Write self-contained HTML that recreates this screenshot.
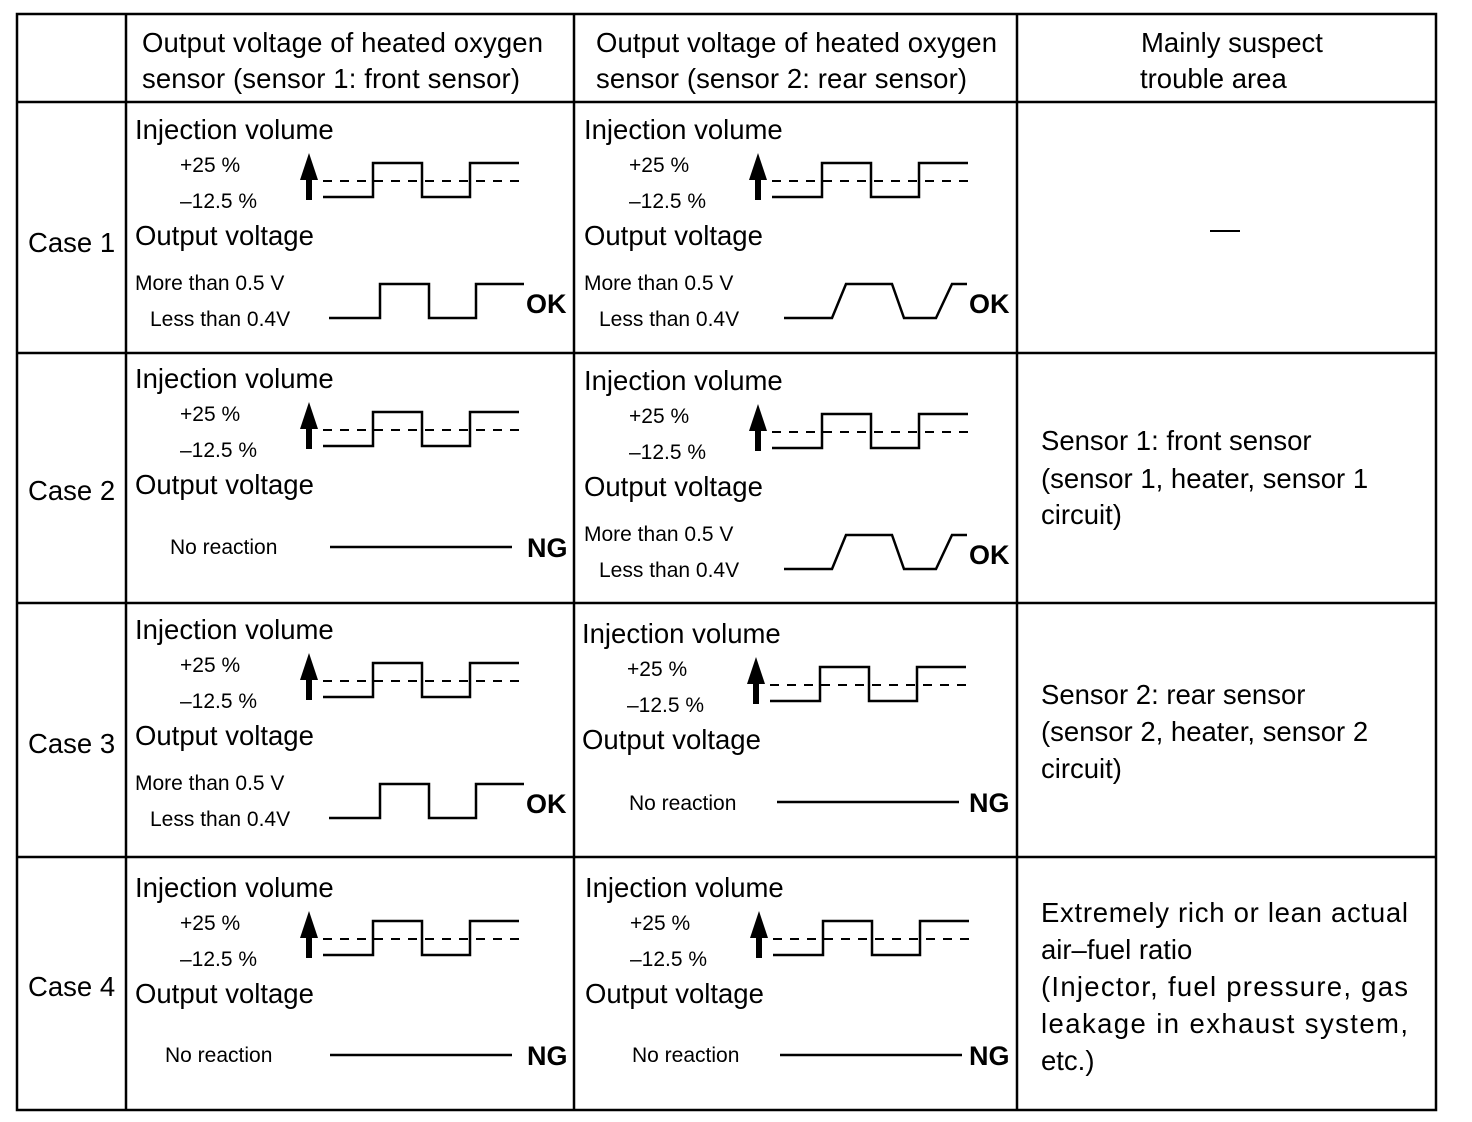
<!DOCTYPE html>
<html><head><meta charset="utf-8"><style>
html,body{margin:0;padding:0;background:#fff;}
svg{display:block;}
text{font-family:"Liberation Sans",Arial,sans-serif;fill:#000;}
.b{font-size:27.5px;}
.s{font-size:21px;}
.k{font-size:27px;font-weight:bold;}
.w{fill:none;stroke:#000;stroke-width:2.5;}
.d{fill:none;stroke:#000;stroke-width:2;stroke-dasharray:9 8;}
</style></head><body>
<svg width="1472" height="1122" viewBox="0 0 1472 1122" xmlns="http://www.w3.org/2000/svg">
<rect x="0" y="0" width="1472" height="1122" fill="#fff"/>
<g stroke="#000" stroke-width="2.5" fill="none">
<rect x="17" y="14" width="1419" height="1096"/>
<line x1="126" y1="14" x2="126" y2="1110"/>
<line x1="574" y1="14" x2="574" y2="1110"/>
<line x1="1017" y1="14" x2="1017" y2="1110"/>
<line x1="17" y1="102" x2="1436" y2="102"/>
<line x1="17" y1="353" x2="1436" y2="353"/>
<line x1="17" y1="603" x2="1436" y2="603"/>
<line x1="17" y1="857" x2="1436" y2="857"/>
</g>
<text class="b" x="142" y="52" textLength="401">Output voltage of heated oxygen</text>
<text class="b" x="142" y="88" textLength="378">sensor (sensor 1: front sensor)</text>
<text class="b" x="596" y="52" textLength="401">Output voltage of heated oxygen</text>
<text class="b" x="596" y="88" textLength="371">sensor (sensor 2: rear sensor)</text>
<text class="b" x="1141" y="52">Mainly suspect</text>
<text class="b" x="1140" y="88">trouble area</text>
<text class="b" x="28" y="252">Case 1</text>
<text class="b" x="28" y="500">Case 2</text>
<text class="b" x="28" y="753">Case 3</text>
<text class="b" x="28" y="996">Case 4</text>

<g transform="translate(0,0)">
<text class="b" x="135" y="139">Injection volume</text><text class="s" x="180" y="172">+25 %</text><text class="s" x="180" y="208">–12.5 %</text><text class="b" x="135" y="245">Output voltage</text>
<polygon points="309,153 300,180 318,180"/><rect x="306" y="178" width="6" height="22"/>
<path class="w" d="M323 197 H373 V163 H422 V197 H470 V163 H519"/><line class="d" x1="323" y1="181" x2="519" y2="181"/>
</g>
<g transform="translate(449,0)">
<text class="b" x="135" y="139">Injection volume</text><text class="s" x="180" y="172">+25 %</text><text class="s" x="180" y="208">–12.5 %</text><text class="b" x="135" y="245">Output voltage</text>
<polygon points="309,153 300,180 318,180"/><rect x="306" y="178" width="6" height="22"/>
<path class="w" d="M323 197 H373 V163 H422 V197 H470 V163 H519"/><line class="d" x1="323" y1="181" x2="519" y2="181"/>
</g>
<g transform="translate(0,249)">
<text class="b" x="135" y="139">Injection volume</text><text class="s" x="180" y="172">+25 %</text><text class="s" x="180" y="208">–12.5 %</text><text class="b" x="135" y="245">Output voltage</text>
<polygon points="309,153 300,180 318,180"/><rect x="306" y="178" width="6" height="22"/>
<path class="w" d="M323 197 H373 V163 H422 V197 H470 V163 H519"/><line class="d" x1="323" y1="181" x2="519" y2="181"/>
</g>
<g transform="translate(449,251)">
<text class="b" x="135" y="139">Injection volume</text><text class="s" x="180" y="172">+25 %</text><text class="s" x="180" y="208">–12.5 %</text><text class="b" x="135" y="245">Output voltage</text>
<polygon points="309,153 300,180 318,180"/><rect x="306" y="178" width="6" height="22"/>
<path class="w" d="M323 197 H373 V163 H422 V197 H470 V163 H519"/><line class="d" x1="323" y1="181" x2="519" y2="181"/>
</g>
<g transform="translate(0,500)">
<text class="b" x="135" y="139">Injection volume</text><text class="s" x="180" y="172">+25 %</text><text class="s" x="180" y="208">–12.5 %</text><text class="b" x="135" y="245">Output voltage</text>
<polygon points="309,153 300,180 318,180"/><rect x="306" y="178" width="6" height="22"/>
<path class="w" d="M323 197 H373 V163 H422 V197 H470 V163 H519"/><line class="d" x1="323" y1="181" x2="519" y2="181"/>
</g>
<g transform="translate(447,504)">
<text class="b" x="135" y="139">Injection volume</text><text class="s" x="180" y="172">+25 %</text><text class="s" x="180" y="208">–12.5 %</text><text class="b" x="135" y="245">Output voltage</text>
<polygon points="309,153 300,180 318,180"/><rect x="306" y="178" width="6" height="22"/>
<path class="w" d="M323 197 H373 V163 H422 V197 H470 V163 H519"/><line class="d" x1="323" y1="181" x2="519" y2="181"/>
</g>
<g transform="translate(0,758)">
<text class="b" x="135" y="139">Injection volume</text><text class="s" x="180" y="172">+25 %</text><text class="s" x="180" y="208">–12.5 %</text><text class="b" x="135" y="245">Output voltage</text>
<polygon points="309,153 300,180 318,180"/><rect x="306" y="178" width="6" height="22"/>
<path class="w" d="M323 197 H373 V163 H422 V197 H470 V163 H519"/><line class="d" x1="323" y1="181" x2="519" y2="181"/>
</g>
<g transform="translate(450,758)">
<text class="b" x="135" y="139">Injection volume</text><text class="s" x="180" y="172">+25 %</text><text class="s" x="180" y="208">–12.5 %</text><text class="b" x="135" y="245">Output voltage</text>
<polygon points="309,153 300,180 318,180"/><rect x="306" y="178" width="6" height="22"/>
<path class="w" d="M323 197 H373 V163 H422 V197 H470 V163 H519"/><line class="d" x1="323" y1="181" x2="519" y2="181"/>
</g>

<g transform="translate(0,0)">
<text class="s" x="135" y="290">More than 0.5 V</text><text class="s" x="150" y="326">Less than 0.4V</text>
<path class="w" d="M329 318 H380 V284 H429 V318 H476 V284 H524"/><text class="k" x="526" y="313">OK</text>
</g>
<g transform="translate(0,500)">
<text class="s" x="135" y="290">More than 0.5 V</text><text class="s" x="150" y="326">Less than 0.4V</text>
<path class="w" d="M329 318 H380 V284 H429 V318 H476 V284 H524"/><text class="k" x="526" y="313">OK</text>
</g>
<g transform="translate(0,0)">
<text class="s" x="584" y="290">More than 0.5 V</text><text class="s" x="599" y="326">Less than 0.4V</text>
<path class="w" d="M784 318 H832 L846 284 H892 L904 318 H936 L952 284 H967"/><text class="k" x="969" y="313">OK</text>
</g>
<g transform="translate(0,251)">
<text class="s" x="584" y="290">More than 0.5 V</text><text class="s" x="599" y="326">Less than 0.4V</text>
<path class="w" d="M784 318 H832 L846 284 H892 L904 318 H936 L952 284 H967"/><text class="k" x="969" y="313">OK</text>
</g>
<text class="s" x="170" y="554">No reaction</text><line class="w" x1="330" y1="547" x2="512" y2="547"/><text class="k" x="527" y="557">NG</text>
<text class="s" x="629" y="810">No reaction</text><line class="w" x1="777" y1="802" x2="959" y2="802"/><text class="k" x="969" y="812">NG</text>
<text class="s" x="165" y="1062">No reaction</text><line class="w" x1="330" y1="1055" x2="512" y2="1055"/><text class="k" x="527" y="1065">NG</text>
<text class="s" x="632" y="1062">No reaction</text><line class="w" x1="780" y1="1055" x2="962" y2="1055"/><text class="k" x="969" y="1065">NG</text>

<line x1="1210" y1="231" x2="1240" y2="231" stroke="#000" stroke-width="2"/>
<text class="b" x="1041" y="450">Sensor 1: front sensor</text>
<text class="b" x="1041" y="488">(sensor 1, heater, sensor 1</text>
<text class="b" x="1041" y="524">circuit)</text>
<text class="b" x="1041" y="704">Sensor 2: rear sensor</text>
<text class="b" x="1041" y="741">(sensor 2, heater, sensor 2</text>
<text class="b" x="1041" y="778">circuit)</text>
<text class="b" x="1041" y="922" textLength="367">Extremely rich or lean actual</text>
<text class="b" x="1041" y="959">air–fuel ratio</text>
<text class="b" x="1041" y="996" textLength="367">(Injector, fuel pressure, gas</text>
<text class="b" x="1041" y="1033" textLength="367">leakage in exhaust system,</text>
<text class="b" x="1041" y="1070">etc.)</text>
</svg>
</body></html>
